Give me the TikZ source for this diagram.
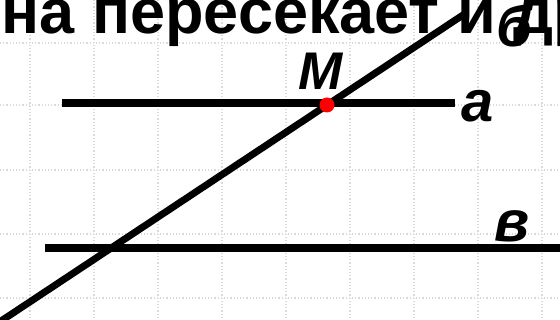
\documentclass[tikz,border=0pt]{standalone}
\usepackage{fontspec}
\setmainfont{Liberation Sans}
\newfontfamily\tfont{Liberation Sans Bold}
\newfontfamily\lfont{Liberation Sans Bold Italic}
\begin{document}
\begin{tikzpicture}[x=1pt,y=-1pt,
  gridline/.style={draw=black!14, line width=1.2pt, dotted},
  geoline/.style={draw=black, line width=7.5pt},
  lbl/.style={font=\fontsize{58}{58}\lfont, inner sep=0pt},
  title/.style={font=\fontsize{63}{63}\tfont, inner sep=0pt}]
\useasboundingbox (0,0) rectangle (560,320);
\fill[white] (0,0) rectangle (560,320);
% faint grid
\foreach \gx in {30,94,158,222,286,350,414,478,542}
  \draw[gridline] (\gx,0) -- (\gx,320);
\foreach \gy in {43,105,170,234,298}
  \draw[gridline] (0,\gy) -- (560,\gy);
% title text (cut off)
\node[title, anchor=base west] (t) at (-37,34) {она пересекает и другую};
% lines
\coordinate (a1) at (62,103);
\coordinate (a2) at (455,103);
\coordinate (b1) at (45,248);
\coordinate (b2) at (565,248);
\coordinate (c1) at (-2,323);
\coordinate (c2) at (466,13);
\draw[geoline] (a1) -- (a2);
\draw[geoline] (b1) -- (b2);
\draw[geoline, line width=7pt] (c1) -- (c2);
% point M
\node[circle, fill=red, minimum size=15pt, inner sep=0pt] (M) at (327,105) {};
\node[lbl, font=\fontsize{53}{53}\lfont, anchor=base] (Ml) at (321,90) {М};
\node[lbl, anchor=base] (al) at (478,122) {а};
\node[lbl, anchor=base] (bl) at (514,47) {б};
\node[lbl, anchor=base] (vl) at (512,242) {в};
\end{tikzpicture}
\end{document}
